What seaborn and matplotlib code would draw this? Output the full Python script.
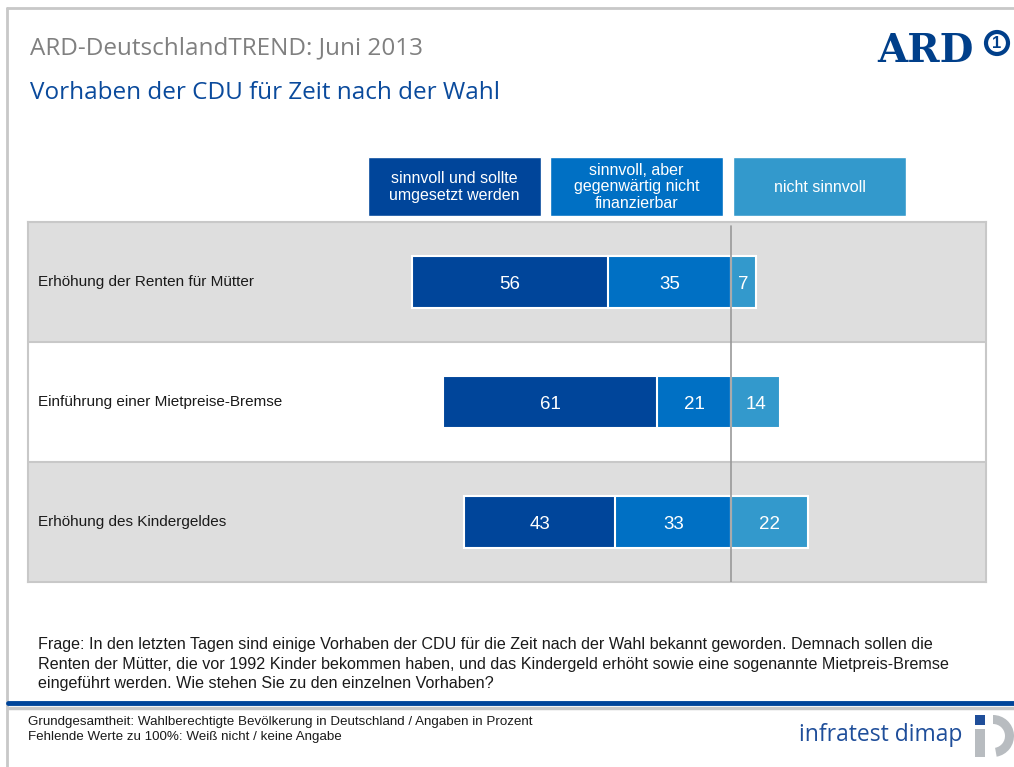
import matplotlib
matplotlib.use("Agg")
import matplotlib.pyplot as plt
import seaborn as sns
from matplotlib.patches import Rectangle, Circle, Wedge

# ---- data ----
categories = [
    "Erhöhung der Renten für Mütter",
    "Einführung einer Mietpreise-Bremse",
    "Erhöhung des Kindergeldes",
]
sinnvoll_umsetzen = [56, 61, 43]
nicht_finanzierbar = [35, 21, 33]
nicht_sinnvoll = [7, 14, 22]
legend_labels = [
    "sinnvoll und sollte\numgesetzt werden",
    "sinnvoll, aber\ngegenwärtig nicht\nfinanzierbar",
    "nicht sinnvoll",
]

DARK = "#00459A"
MID = "#0070C4"
LIGHT = "#3399CC"
GRID_GRAY = "#DEDEDE"
LINE_GRAY = "#C8C8C8"
ARD_BLUE = "#003F8A"

sns.set_style("white")
plt.rcParams["font.family"] = ["Liberation Sans", "DejaVu Sans"]

W, H = 1014, 767
fig = plt.figure(figsize=(W / 100, H / 100), dpi=100)

# ---- main chart axes (pixel box 28..986 x 222..582) ----
ax = fig.add_axes([28 / W, 1 - 582 / H, (986 - 28) / W, (582 - 222) / H])

left_total = [-(a + b) for a, b in zip(sinnvoll_umsetzen, nicht_finanzierbar)]
left_mid = [-b for b in nicht_finanzierbar]

# row backgrounds
for i in range(len(categories)):
    ax.axhspan(i - 0.5, i + 0.5, color=GRID_GRAY if i % 2 == 0 else "white", zorder=0, lw=0)
    ax.axhline(i - 0.5, color=LINE_GRAY, lw=1.5, zorder=0.5)

bar_kw = dict(y=categories, orient="h", width=0.44, edgecolor="white",
              linewidth=1.5, ax=ax, zorder=2)
sns.barplot(x=left_total, color=DARK, saturation=1, **bar_kw)
sns.barplot(x=left_mid, color=MID, saturation=1, **bar_kw)
sns.barplot(x=nicht_sinnvoll, color=LIGHT, saturation=1, **bar_kw)

# value labels
for i, (a, b, c) in enumerate(zip(sinnvoll_umsetzen, nicht_finanzierbar, nicht_sinnvoll)):
    for xc, v in [(-(b + a / 2), a), (-b / 2, b), (c / 2, c)]:
        ax.text(xc, i + 0.02, str(v), ha="center", va="center", color="white",
                fontsize=13.5, zorder=4)
    ax.text(0.01, i, categories[i], transform=ax.get_yaxis_transform(),
            ha="left", va="center", fontsize=11, color="#1a1a1a", zorder=4)

ax.axvline(0, ymin=0, ymax=0.99, color="#999999", lw=1.2, zorder=3)
ax.set_xlim(-200.3, 72.6)
ax.set_ylim(len(categories) - 0.5, -0.5)
ax.set_xticks([])
ax.set_yticks([])
ax.set_xlabel("")
ax.set_ylabel("")
for s in ax.spines.values():
    s.set_color(LINE_GRAY)
    s.set_linewidth(1.5)

# ---- overlay axes in pixel coords for the slide decoration ----
ov = fig.add_axes([0, 0, 1, 1], zorder=-1)
ov.set_xlim(0, W)
ov.set_ylim(H, 0)
ov.axis("off")

top = fig.add_axes([0, 0, 1, 1], zorder=5)
top.set_xlim(0, W)
top.set_ylim(H, 0)
top.axis("off")
top.patch.set_alpha(0)

# slide frame
ov.plot([7, 7], [8, H], color=LINE_GRAY, lw=2)
ov.plot([7, W], [8, 8], color=LINE_GRAY, lw=2)
ov.plot([8, W], [703, 703], color=DARK, lw=3.5)
ov.plot([8, W], [708, 708], color="#C8C8C8", lw=2.5)

# titles
top.text(30, 48, "ARD-DeutschlandTREND: Juni 2013", fontsize=17.5, color="#808080",
         family="Open Sans", va="center", ha="left")
top.text(30, 93, "Vorhaben der CDU für Zeit nach der Wahl", fontsize=17.5,
         color="#0A4A9C", family="Open Sans", va="center", ha="left")

# ARD logo
top.text(877, 51, "ARD", fontsize=28, fontweight="bold", family="DejaVu Serif",
         color=ARD_BLUE, va="center", ha="left")
top.add_patch(Circle((997, 43), 11, facecolor="white", edgecolor=ARD_BLUE, lw=3))
top.text(997, 44, "1", fontsize=12, fontweight="bold", color=ARD_BLUE,
         ha="center", va="center")

# legend boxes
box_x = [368, 550, 733]
for bx, lab, col in zip(box_x, legend_labels, [DARK, MID, LIGHT]):
    top.add_patch(Rectangle((bx, 157), 173, 59, facecolor=col, edgecolor="white", lw=1))
    top.text(bx + 86.5, 187, lab, ha="center", va="center", color="white",
             fontsize=11.5, linespacing=1.1)

# question and footnotes
question = ("Frage: In den letzten Tagen sind einige Vorhaben der CDU für die Zeit nach der Wahl "
            "bekannt geworden. Demnach sollen die\nRenten der Mütter, die vor 1992 Kinder bekommen "
            "haben, und das Kindergeld erhöht sowie eine sogenannte Mietpreis-Bremse\n"
            "eingeführt werden. Wie stehen Sie zu den einzelnen Vorhaben?")
top.text(38, 637, question, ha="left", va="top", fontsize=11.6, color="#1a1a1a",
         linespacing=1.38)
top.text(28, 716, "Grundgesamtheit: Wahlberechtigte Bevölkerung in Deutschland / Angaben in Prozent\n"
         "Fehlende Werte zu 100%: Weiß nicht / keine Angabe", ha="left", va="top",
         fontsize=9.6, color="#1a1a1a", linespacing=1.3)

# infratest dimap logo
top.text(962, 735, "infratest dimap", ha="right", va="center", fontsize=16.5,
         family="Open Sans", color="#1F4E9A")
top.add_patch(Rectangle((975, 715), 10, 10, facecolor="#1F4E9A", lw=0))
top.add_patch(Rectangle((975, 729), 10, 28, facecolor="#B8BCC0", lw=0))
top.add_patch(Wedge((993, 736), 21, -90, 80, width=9, facecolor="#B8BCC0", lw=0))

fig.savefig("out.png", dpi=100)
